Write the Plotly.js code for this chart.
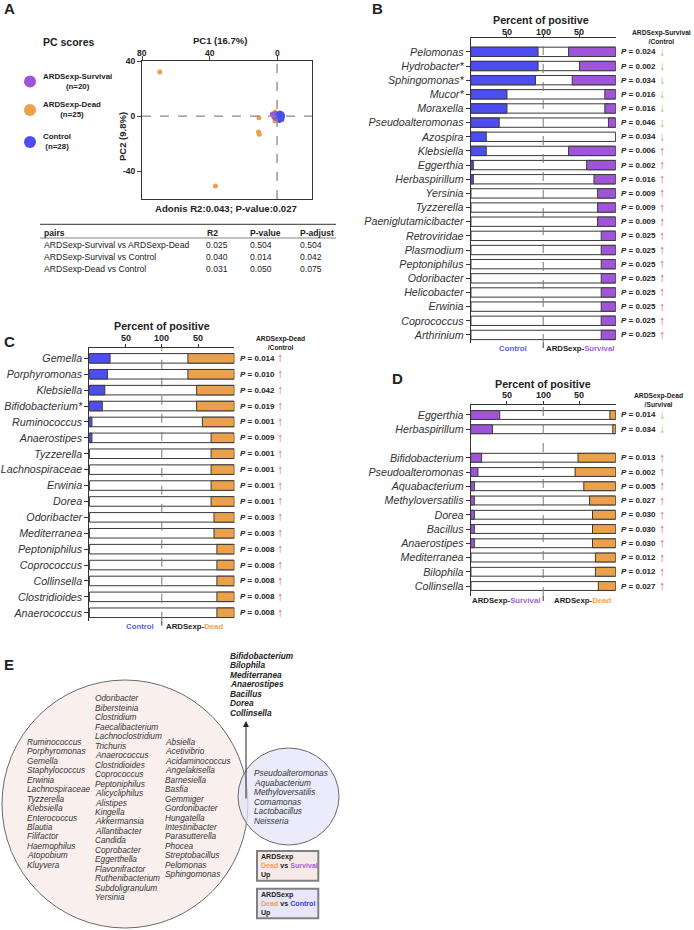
<!DOCTYPE html>
<html>
<head>
<meta charset="utf-8">
<script src="https://cdn.plot.ly/plotly-3.0.1.min.js"></script>
<style>body{margin:0;background:#fff}#fig{width:694px;height:930px}</style>
</head>
<body>
<div id="fig"></div>
<script>
const W = 694, H = 930;
const px = x => x / W;
const py = y => 1 - y / H;

const BLUE = '#4d4df2', PURPLE = '#a055d8', ORANGE = '#eba14c';
const T_CTRL = '#5b5bf2', T_SURV = '#a85ee6', T_DEAD = '#f2a24e';
const UP = '#ee4444', DOWN = '#7cd04a';

// ---- A: PC scores
const survPC1 = [2.8, 1.5, 0.8, 1.2, 0.5, 1.8, 0.9, 0.3, 1.4, 0.6, 2.0, 1.0, 0.2, 1.6, 0.7, 1.1, 0.4, 1.3, 0.8, 0.1];
const survPC2 = [1.6, 0.5, -0.5, 1.8, 0.2, -0.8, 1.1, -1.2, -0.2, 0.8, 0.9, -1.5, 0.4, 1.3, -0.3, 0.1, 1.5, -1.0, 2.2, -0.6];
const deadPC1 = [69.5, 36.5, 10.7, 11, 10.5, 1.2, 1.2, 0.8, 0.5, 1.0, 0.3, 0.6, 0.9, 0.2, 0.4, 1.1, 0.7, 0.1, 0.5, 0.8, 0.3, 0.6, 1.3, 0.2, 0.9];
const deadPC2 = [32, -50.5, -1.2, -11.5, -13, 3, -3.5, 1.2, -0.8, 0.4, 1.8, -1.5, 2.2, 0.3, -2.1, -0.3, 0.9, -1.1, 1.5, -0.5, 0.6, -2.6, 1.0, -0.4, -1.8];
const ctrlPC1 = [-1.5, -2.2, -0.8, -3.0, -1.9, -2.6, -1.2, -0.5, -2.9, -1.7, -2.3, -0.9, -1.4, -2.0, -3.1, -0.6, -1.1, -2.5, -1.8, -2.8, -0.7, -1.3, -2.1, -3.2, -1.6, -0.4, -2.4, -1.0];
const ctrlPC2 = [1.8, 0.9, -0.5, 1.2, -1.3, -0.2, 0.4, 1.0, -1.0, 2.4, -2.0, -1.8, -3.2, 0.1, 0.5, -0.9, 1.5, 1.7, -0.6, -2.4, 0.3, -1.4, 2.0, -0.3, 0.7, -0.2, -1.1, -2.5];
const pc1Ticks = [80, 40, 0];

const pairs = ['ARDSexp-Survival vs ARDSexp-Dead', 'ARDSexp-Survival vs Control', 'ARDSexp-Dead vs Control'];
const r2 = ['0.025', '0.040', '0.031'];
const pval = ['0.504', '0.014', '0.050'];
const padj = ['0.504', '0.042', '0.075'];

// ---- B: Survival vs Control
const genusB = ['Pelomonas', 'Hydrobacter*', 'Sphingomonas*', 'Mucor*', 'Moraxella', 'Pseudoalteromonas', 'Azospira',
  'Klebsiella', 'Eggerthia', 'Herbaspirillum', 'Yersinia', 'Tyzzerella', 'Paeniglutamicibacter', 'Retroviridae',
  'Plasmodium', 'Peptoniphilus', 'Odoribacter', 'Helicobacter', 'Erwinia', 'Coprococcus', 'Arthrinium'];
const ctrlB = [92.9, 92.9, 89.3, 50, 50, 39.3, 21.4, 21.4, 3.6, 3.6, 0, 0, 0, 0, 0, 0, 0, 0, 0, 0, 0];
const survB = [65, 50, 60, 15, 15, 10, 0, 65, 40, 30, 25, 25, 25, 20, 20, 20, 20, 20, 20, 20, 20];
const pB = ['0.024', '0.002', '0.034', '0.016', '0.016', '0.046', '0.034', '0.006', '0.002', '0.016', '0.009',
  '0.009', '0.009', '0.025', '0.025', '0.025', '0.025', '0.025', '0.025', '0.025', '0.025'];
const dirB = ['d', 'd', 'd', 'd', 'd', 'd', 'd', 'u', 'u', 'u', 'u', 'u', 'u', 'u', 'u', 'u', 'u', 'u', 'u', 'u', 'u'];

// ---- C: Dead vs Control
const genusC = ['Gemella', 'Porphyromonas', 'Klebsiella', 'Bifidobacterium*', 'Ruminococcus', 'Anaerostipes', 'Tyzzerella',
  'Lachnospiraceae', 'Erwinia', 'Dorea', 'Odoribacter', 'Mediterranea', 'Peptoniphilus', 'Coprococcus',
  'Collinsella', 'Clostridioides', 'Anaerococcus'];
const ctrlC = [28.6, 25, 21.4, 17.9, 3.6, 3.6, 0, 0, 0, 0, 0, 0, 0, 0, 0, 0, 0];
const deadC = [64, 64, 52, 52, 44, 32, 32, 32, 32, 32, 28, 28, 24, 24, 24, 24, 24];
const pC = ['0.014', '0.010', '0.042', '0.019', '0.001', '0.009', '0.001', '0.001', '0.001', '0.001', '0.003',
  '0.003', '0.008', '0.008', '0.008', '0.008', '0.008'];
const dirC = genusC.map(() => 'u');

// ---- D: Dead vs Survival (row 2 left empty)
const genusD = ['Eggerthia', 'Herbaspirillum', '', 'Bifidobacterium', 'Pseudoalteromonas', 'Aquabacterium',
  'Methyloversatilis', 'Dorea', 'Bacillus', 'Anaerostipes', 'Mediterranea', 'Bilophila', 'Collinsella'];
const survD = [40, 30, null, 15, 10, 5, 5, 5, 5, 5, 0, 0, 0];
const deadD = [8, 4, null, 52, 56, 44, 36, 32, 32, 32, 28, 28, 24];
const pD = ['0.014', '0.034', '', '0.013', '0.002', '0.005', '0.027', '0.030', '0.030', '0.030', '0.012', '0.012', '0.027'];
const dirD = ['d', 'd', '', 'u', 'u', 'u', 'u', 'u', 'u', 'u', 'u', 'u', 'u'];

// percent axis ticks (both halves count up to 100 at the centre)
const pctTicks = [50, 100, 150];
const pctLabels = ['50', '100', '50'];

// ---- E: venn lists
const upBoth = ['Bifidobacterium', 'Bilophila', 'Mediterranea', 'Anaerostipes', 'Bacillus', 'Dorea', 'Collinsella'];
const vennCol1 = ['Ruminococcus', 'Porphyromonas', 'Gemella', 'Staphylococcus', 'Erwinia', 'Lachnospiraceae', 'Tyzzerella',
  'Klebsiella', 'Enterococcus', 'Blautia', 'Filifactor', 'Haemophilus', 'Atopobium', 'Kluyvera'];
const vennCol2 = ['Odoribacter', 'Bibersteinia', 'Clostridium', 'Faecalibacterium', 'Lachnoclostridium', 'Trichuris',
  'Anaerococcus', 'Clostridioides', 'Coprococcus', 'Peptoniphilus', 'Alicycliphilus', 'Alistipes', 'Kingella',
  'Akkermansia', 'Allantibacter', 'Candida', 'Coprobacter', 'Eggerthella', 'Flavonifractor', 'Ruthenibacterium',
  'Subdoligranulum', 'Yersinia'];
const vennCol3 = ['Absiella', 'Acetivibrio', 'Acidaminococcus', 'Angelakisella', 'Barnesiella', 'Basfia', 'Gemmiger',
  'Gordonibacter', 'Hungatella', 'Intestinibacter', 'Parasutterella', 'Phocea', 'Streptobacillus', 'Pelomonas',
  'Sphingomonas'];
const vennSmall = ['Pseudoalteromonas', 'Aquabacterium', 'Methyloversatilis', 'Comamonas', 'Lactobacillus', 'Neisseria'];

const annotations = [];
const shapes = [];

function txt(x, y, text, size, xanchor, extra) {
  annotations.push(Object.assign({
    xref: 'paper', yref: 'paper', x: px(x), y: py(y), text: text, showarrow: false,
    font: {size: size, color: '#222'}, xanchor: xanchor || 'center', yanchor: 'middle'
  }, extra || {}));
}

// scatter traces
const data = [
  {x: deadPC1, y: deadPC2, color: ORANGE},
  {x: survPC1, y: survPC2, color: PURPLE},
  {x: ctrlPC1, y: ctrlPC2, color: BLUE}
].map(g => ({
  type: 'scatter', mode: 'markers', x: g.x, y: g.y, xaxis: 'x', yaxis: 'y',
  marker: {size: 5, color: g.color}, hoverinfo: 'skip'
}));

// bar panels
function barPanel(names, left, right, lc, rc, xa, ya, bw) {
  const rows = names.map((n, i) => i);
  const line = {color: '#3a3a3a', width: 1};
  const base = {type: 'bar', orientation: 'h', y: rows, xaxis: xa, yaxis: ya, width: bw, hoverinfo: 'skip'};
  data.push(Object.assign({}, base, {x: names.map(n => n ? 200 : null), base: 0, marker: {color: '#fff', line: line}}));
  data.push(Object.assign({}, base, {x: left, base: 0, marker: {color: lc, line: line}}));
  data.push(Object.assign({}, base, {x: right, base: right.map(v => v == null ? null : 200 - v), marker: {color: rc, line: line}}));
}
barPanel(genusB, ctrlB, survB, BLUE, PURPLE, 'x2', 'y2', 0.66);
barPanel(genusC, ctrlC, deadC, BLUE, ORANGE, 'x3', 'y3', 0.6);
barPanel(genusD, survD, deadD, PURPLE, ORANGE, 'x4', 'y4', 0.62);

function barX(x0, x1, anchor) {
  return {
    domain: [px(x0), px(x1)], anchor: anchor, range: [0, 200], side: 'top',
    tickvals: pctTicks, showticklabels: false, ticks: 'outside', ticklen: 3, tickcolor: '#333',
    showline: true, linecolor: '#333', linewidth: 1, showgrid: false, zeroline: false, fixedrange: true
  };
}
function barY(names, top, bottom, lo, hi, anchor) {
  const vals = [], texts = [];
  names.forEach((n, i) => { if (n) { vals.push(i); texts.push('<i>' + n + '</i>'); } });
  return {
    domain: [py(bottom), py(top)], anchor: anchor, range: [hi, lo], tickvals: vals, ticktext: texts,
    tickfont: {size: 10.7, color: '#333'}, ticks: 'outside', ticklen: 4, tickcolor: '#333',
    showline: true, linecolor: '#333', linewidth: 1, showgrid: false, zeroline: false, fixedrange: true
  };
}

function barDecor(xa, ya, titleX, titleY, tickY, botEdge, pX, arX, pv, dir, names, header, hx, hy, botY, leftLab, rightLab, lx, rx) {
  shapes.push({type: 'line', xref: xa, yref: ya + ' domain', x0: 100, x1: 100, y0: 0, y1: 1,
    line: {color: '#777', width: 1, dash: 'dash'}});
  shapes.push({type: 'line', xref: xa, yref: 'paper', x0: 100, x1: 100, y0: py(botEdge), y1: py(botEdge + 5),
    line: {color: '#333', width: 1}});
  txt(titleX, titleY, '<b>Percent of positive</b>', 10.7);
  pctTicks.forEach((t, i) => annotations.push({xref: xa, yref: 'paper', x: t, y: py(tickY),
    text: '<b>' + pctLabels[i] + '</b>', showarrow: false, xanchor: 'center', yanchor: 'middle',
    font: {size: 9, color: '#222'}}));
  names.forEach((n, i) => {
    if (!n) return;
    annotations.push({xref: 'paper', yref: ya, x: px(pX), y: i, text: '<b><i>P</i> = ' + pv[i] + '</b>',
      showarrow: false, xanchor: 'left', yanchor: 'middle', font: {size: 8, color: '#222'}});
    annotations.push({xref: 'paper', yref: ya, x: px(arX), y: i, text: dir[i] === 'u' ? '↑' : '↓',
      showarrow: false, xanchor: 'center', yanchor: 'middle', font: {size: 12, color: dir[i] === 'u' ? UP : DOWN}});
  });
  txt(hx, hy, header, 6.7);
  txt(lx, botY, leftLab, 7.8);
  txt(rx, botY, rightLab, 7.8);
}

barDecor('x2', 'y2', 540.5, 19.5, 32, 343, 619, 662, pB, dirB, genusB,
  '<b>ARDSexp-Survival<br>/Control</b>', 661.7, 36.5, 348,
  '<b><span style="color:' + T_CTRL + '">Control</span></b>',
  '<b>ARDSexp-<span style="color:' + T_SURV + '">Survival</span></b>', 513, 580);
barDecor('x3', 'y3', 161.8, 326, 338.3, 620.7, 238, 280, pC, dirC, genusC,
  '<b>ARDSexp-Dead<br>/Control</b>', 280, 342.5, 626.7,
  '<b><span style="color:' + T_CTRL + '">Control</span></b>',
  '<b>ARDSexp-<span style="color:' + T_DEAD + '">Dead</span></b>', 140, 194.3);
barDecor('x4', 'y4', 543.2, 384, 395, 596, 619, 662, pD, dirD, genusD,
  '<b>ARDSexp-Dead<br>/Survival</b>', 658, 399.5, 600.5,
  '<b>ARDSexp-<span style="color:' + T_SURV + '">Survival</span></b>',
  '<b>ARDSexp-<span style="color:' + T_DEAD + '">Dead</span></b>', 506, 582);

// panel letters
txt(9, 9, '<b>A</b>', 15);
txt(377, 9, '<b>B</b>', 15);
txt(9, 341, '<b>C</b>', 15);
txt(398, 378, '<b>D</b>', 15);
txt(9, 664, '<b>E</b>', 15);

// A: titles and legend
txt(69, 42, '<b>PC scores</b>', 10.5);
txt(219.5, 40.5, '<b>PC1 (16.7%)</b>', 9.5);
pc1Ticks.forEach(t => annotations.push({xref: 'x', yref: 'paper', x: t, y: py(53.3), text: '<b>' + t + '</b>',
  showarrow: false, xanchor: 'center', yanchor: 'middle', font: {size: 8.5, color: '#222'}}));
txt(122, 137, '<b>PC2 (9.8%)</b>', 9.5, 'center', {textangle: -90});
txt(226, 208.3, '<b>Adonis R2:0.043; P-value:0.027</b>', 9.6);
shapes.push({type: 'line', xref: 'x', yref: 'y domain', x0: 0, x1: 0, y0: 0, y1: 1, line: {color: '#888', width: 1.3, dash: 'dash'}});
shapes.push({type: 'line', xref: 'x domain', yref: 'y', x0: 0, x1: 1, y0: 0, y1: 0, line: {color: '#888', width: 1.3, dash: 'dash'}});
[['ARDSexp-Survival', '(n=20)', PURPLE, 81.5], ['ARDSexp-Dead', '(n=25)', ORANGE, 110], ['Control', '(n=28)', BLUE, 142]]
  .forEach(l => {
    shapes.push({type: 'circle', xref: 'paper', yref: 'paper', x0: px(24), x1: px(36), y0: py(l[3] + 6), y1: py(l[3] - 6),
      fillcolor: l[2], line: {width: 0}});
    txt(41, l[3] - 0.5, '<b>' + l[0] + '<br>' + l[1] + '</b>', 7.9, 'left');
  });

// A: table
shapes.push({type: 'line', xref: 'paper', yref: 'paper', x0: px(40), x1: px(336), y0: py(224.3), y1: py(224.3), line: {color: '#333', width: 1}});
shapes.push({type: 'line', xref: 'paper', yref: 'paper', x0: px(40), x1: px(336), y0: py(238), y1: py(238), line: {color: '#333', width: 0.6}});
txt(42, 232.5, '<b>pairs</b>', 8.6, 'left');
txt(205, 232.5, '<b>R2</b>', 8.6, 'left');
txt(248.3, 232.5, '<b>P-value</b>', 8.6, 'left');
txt(298.3, 232.5, '<b>P-adjust</b>', 8.6, 'left');
pairs.forEach((p, i) => {
  const y = 244.5 + i * 12.2;
  txt(42, y, p, 8.6, 'left');
  txt(204, y, r2[i], 8.6, 'left');
  txt(248.3, y, pval[i], 8.6, 'left');
  txt(298.3, y, padj[i], 8.6, 'left');
});

// E: venn
shapes.push({type: 'circle', xref: 'paper', yref: 'paper', x0: px(2), x1: px(248), y0: py(928), y1: py(680),
  fillcolor: '#f9f0ee', line: {color: '#6a6a6a', width: 1}});
shapes.push({type: 'circle', xref: 'paper', yref: 'paper', x0: px(238), x1: px(339), y0: py(845), y1: py(748),
  fillcolor: 'rgba(228,228,250,0.75)', line: {color: '#6a6a6a', width: 1}});
shapes.push({type: 'rect', xref: 'paper', yref: 'paper', x0: px(257), x1: px(318.3), y0: py(880.7), y1: py(851),
  fillcolor: '#f7e9e5', line: {color: '#808080', width: 2}});
shapes.push({type: 'rect', xref: 'paper', yref: 'paper', x0: px(257), x1: px(318.3), y0: py(918.3), y1: py(888.7),
  fillcolor: '#e7e7f8', line: {color: '#808080', width: 2}});
annotations.push({xref: 'paper', yref: 'paper', x: px(246), y: py(721), ax: 0, ay: 79, text: '', showarrow: true,
  arrowhead: 2, arrowsize: 1.2, arrowwidth: 1, arrowcolor: '#222'});

upBoth.forEach((n, i) => txt(227.7, 655.7 + i * 9.5, '<b><i>' + n + '</i></b>', 8.3, 'left'));
const ital = {font: {size: 8.3, color: '#333'}};
vennCol1.forEach((n, i) => txt(25.3, 741.7 + i * 9.476, '<i>' + n + '</i>', 8.3, 'left', ital));
vennCol2.forEach((n, i) => txt(92.7, 698.3 + i * 9.476, '<i>' + n + '</i>', 8.3, 'left', ital));
vennCol3.forEach((n, i) => txt(163.3, 741.7 + i * 9.476, '<i>' + n + '</i>', 8.3, 'left', ital));
vennSmall.forEach((n, i) => txt(251.7, 773.3 + i * 9.476, '<i>' + n + '</i>', 8.3, 'left', ital));

txt(259, 866, '<b>ARDSexp<br><span style="color:' + T_DEAD + '">Dead</span> vs <span style="color:' + T_SURV +
  '">Survival</span><br>Up</b>', 7.1, 'left', {align: 'left'});
txt(259, 903.5, '<b>ARDSexp<br><span style="color:' + T_DEAD + '">Dead</span> vs <span style="color:#3a3af2">Control</span><br>Up</b>',
  7.1, 'left', {align: 'left'});

const layout = {
  width: W, height: H, margin: {l: 0, r: 0, t: 0, b: 0},
  paper_bgcolor: '#fff', plot_bgcolor: 'rgba(0,0,0,0)',
  font: {family: 'Liberation Sans, Arial, sans-serif', color: '#222'},
  showlegend: false, barmode: 'overlay',
  xaxis: {
    domain: [px(142), px(312)], anchor: 'y', range: [80, -20.7], side: 'top', tickvals: pc1Ticks,
    showticklabels: false, ticks: 'outside', ticklen: 4,
    showline: true, mirror: true, linecolor: '#333', showgrid: false, zeroline: false, fixedrange: true
  },
  yaxis: {
    domain: [py(199), py(61)], anchor: 'x', range: [-60, 40], tickvals: [40, 0, -40],
    ticktext: ['<b>40</b>', '<b>0</b>', '<b>-40</b>'], tickfont: {size: 8.5}, ticks: 'outside', ticklen: 4,
    showline: true, mirror: true, linecolor: '#333', showgrid: false, zeroline: false, fixedrange: true
  },
  xaxis2: barX(470.7, 615.7, 'y2'),
  yaxis2: barY(genusB, 37.7, 343, -1.0, 20.57, 'x2'),
  xaxis3: barX(89.3, 234.3, 'y3'),
  yaxis3: barY(genusC, 347.7, 620.7, -0.67, 16.5, 'x3'),
  xaxis4: barX(470.7, 615.7, 'y4'),
  yaxis4: barY(genusD, 405.3, 596, -0.68, 12.7, 'x4'),
  shapes: shapes,
  annotations: annotations
};

Plotly.newPlot('fig', data, layout, {staticPlot: true});
</script>
</body>
</html>
